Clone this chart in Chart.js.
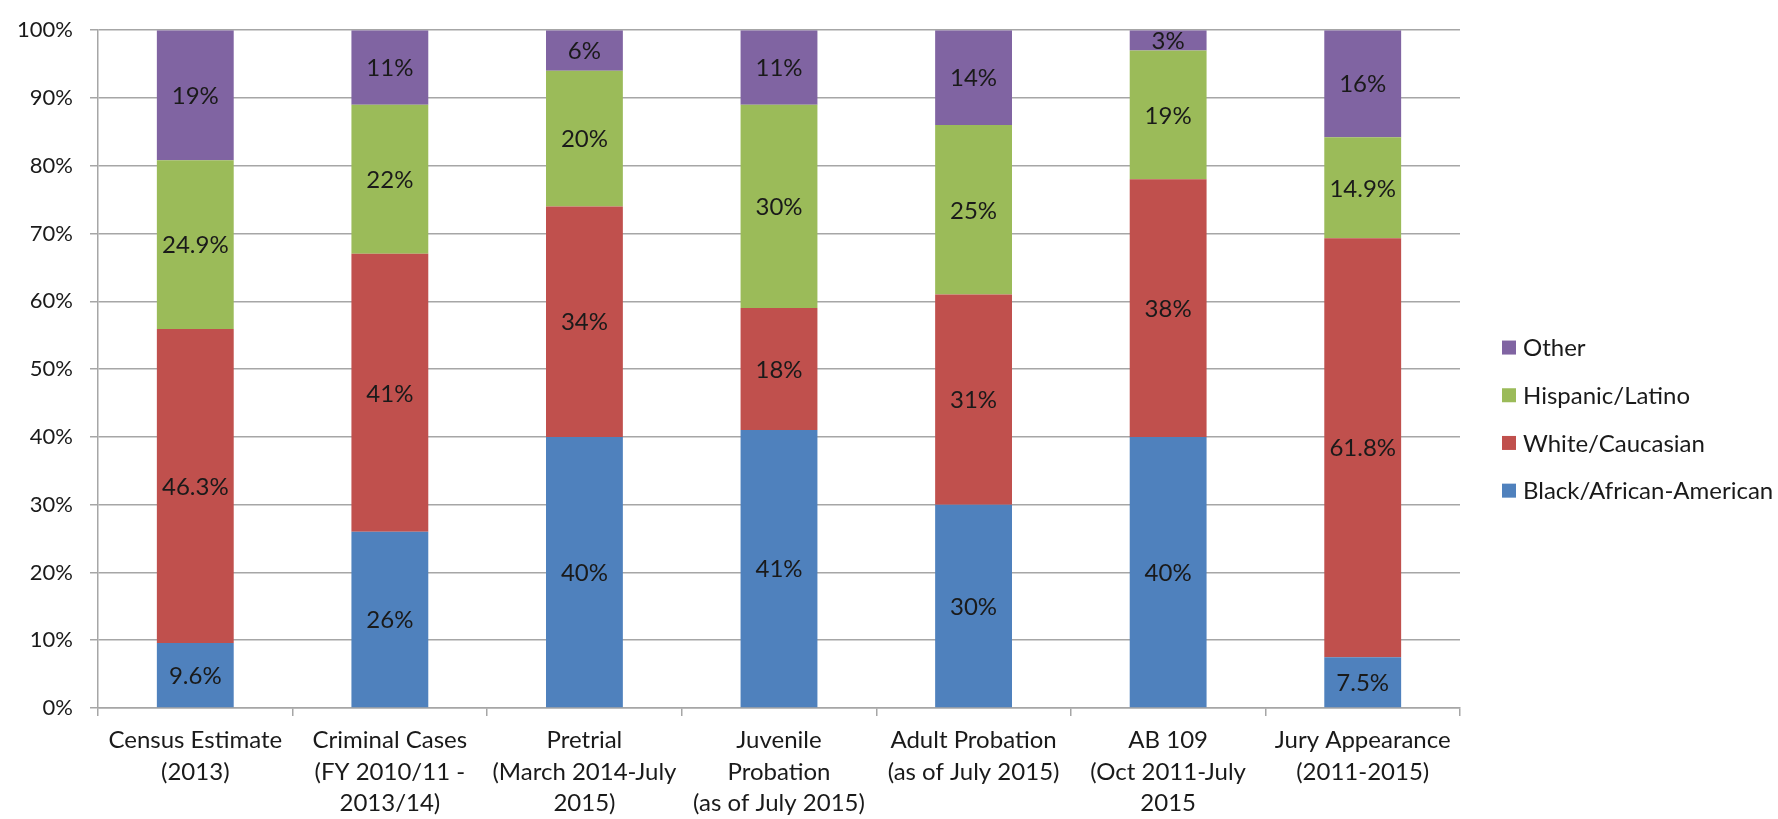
<!DOCTYPE html>
<html>
<head>
<meta charset="utf-8">
<script src="https://cdn.jsdelivr.net/npm/chart.js@4"></script>
<style>
  html, body { margin: 0; padding: 0; background: #fff; }
  #wrap { width: 1778px; height: 819px; }
</style>
</head>
<body>
<div id="wrap"><canvas id="myChart" width="1778" height="819"></canvas></div>
<script>
// categories + series (percent shares)
const categories = [
  ['Census Estimate', '(2013)'],
  ['Criminal Cases', '(FY 2010/11 -', '2013/14)'],
  ['Pretrial', '(March 2014-July', '2015)'],
  ['Juvenile', 'Probation', '(as of July 2015)'],
  ['Adult Probation', '(as of July 2015)'],
  ['AB 109', '(Oct 2011-July', '2015'],
  ['Jury Appearance', '(2011-2015)']
];
const black = [9.6, 26, 40, 41, 30, 40, 7.5];
const white = [46.3, 41, 34, 18, 31, 38, 61.8];
const hispanic = [24.9, 22, 20, 30, 25, 19, 14.9];
const other = [19.2, 11, 6, 11, 14, 3, 15.8];   // labelled as whole percents
const yTicks = [0, 10, 20, 30, 40, 50, 60, 70, 80, 90, 100];

const FONT = 'Lato';
const TXT = '#1a1a1a';

const series = [
  { label: 'Black/African-American', data: black, color: '#4F81BD', fmt: v => v + '%' },
  { label: 'White/Caucasian', data: white, color: '#C0504D', fmt: v => v + '%' },
  { label: 'Hispanic/Latino', data: hispanic, color: '#9BBB59', fmt: v => v + '%' },
  { label: 'Other', data: other, color: '#8064A2', fmt: v => Math.round(v) + '%' }
];

// labels in the middle of every segment
const segLabels = {
  id: 'segLabels',
  afterDatasetsDraw(chart) {
    const ctx = chart.ctx;
    ctx.save();
    ctx.font = '24px ' + FONT;
    ctx.fillStyle = TXT;
    ctx.textAlign = 'center';
    ctx.textBaseline = 'middle';
    chart.data.datasets.forEach((ds, di) => {
      chart.getDatasetMeta(di).data.forEach((bar, i) => {
        const y = (bar.y + bar.base) / 2;
        ctx.fillText(series[di].fmt(series[di].data[i]), bar.x, y + 1);
      });
    });
    ctx.restore();
  }
};

// legend on the right, reversed like excel
const sideLegend = {
  id: 'sideLegend',
  afterDraw(chart) {
    const ctx = chart.ctx;
    const area = chart.chartArea;
    const x = area.right + 42;
    const step = 47.7;
    const y0 = (area.top + area.bottom) / 2 + 50 - step * 1.5;
    ctx.save();
    ctx.font = '24px ' + FONT;
    ctx.textBaseline = 'middle';
    ctx.textAlign = 'left';
    series.slice().reverse().forEach((s, k) => {
      const y = y0 + k * step;
      ctx.fillStyle = s.color;
      ctx.fillRect(x, y - 7, 14, 14);
      ctx.fillStyle = TXT;
      ctx.fillText(s.label, x + 21, y + 1);
    });
    ctx.restore();
  }
};

const ctx = document.getElementById('myChart');
const myChart = new Chart(ctx, {
  type: 'bar',
  data: {
    labels: categories,
    datasets: series.map(s => ({
      label: s.label,
      data: s.data,
      backgroundColor: s.color,
      borderWidth: 0,
      categoryPercentage: 1,
      barPercentage: 0.395
    }))
  },
  options: {
    responsive: false,
    animation: false,
    devicePixelRatio: 1,
    layout: { padding: { top: 24, right: 318, left: 0, bottom: 0 } },
    plugins: {
      legend: { display: false },
      tooltip: { enabled: false }
    },
    scales: {
      x: {
        stacked: true,
        grid: {
          offset: true,
          drawOnChartArea: false,
          drawTicks: true,
          tickLength: 8,
          color: '#a6a6a6',
          lineWidth: 1.5
        },
        border: { color: '#a6a6a6', width: 1.5 },
        ticks: {
          color: TXT,
          font: { family: FONT, size: 24, lineHeight: 1.31 },
          padding: 9,
          maxRotation: 0,
          autoSkip: false
        },
        afterFit(scale) { scale.height = 111; }
      },
      y: {
        stacked: true,
        min: 0,
        max: 100,
        afterBuildTicks(scale) { scale.ticks = yTicks.map(v => ({ value: v })); },
        grid: { color: '#a6a6a6', lineWidth: 1.5, tickLength: 8 },
        border: { color: '#a6a6a6', width: 1.5 },
        ticks: {
          color: TXT,
          font: { family: FONT, size: 22 },
          padding: 17,
          callback: v => v + '%'
        },
        afterFit(scale) { scale.width = 98; }
      }
    }
  },
  plugins: [segLabels, sideLegend]
});
</script>
</body>
</html>
